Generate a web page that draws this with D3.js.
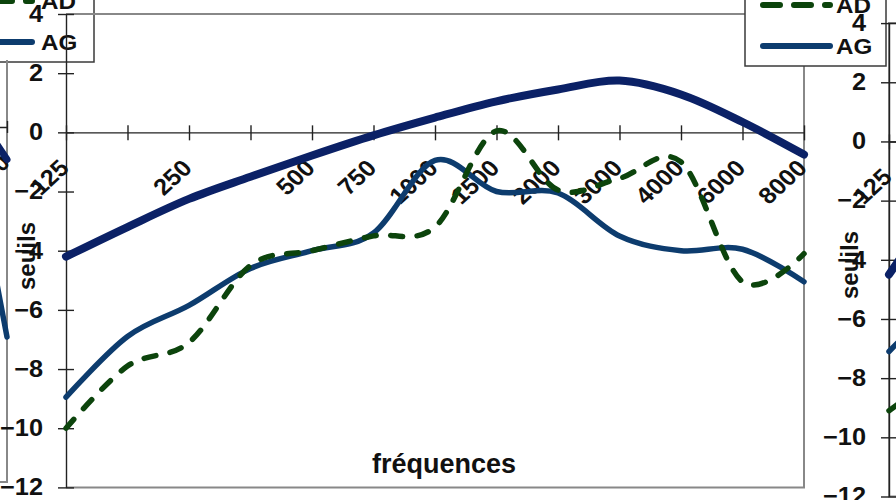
<!DOCTYPE html>
<html>
<head>
<meta charset="utf-8">
<script src="https://cdn.jsdelivr.net/npm/d3@7/dist/d3.min.js"></script>
<style>
  body { margin: 0; background: #fff; }
  svg { display: block; font-family: "Liberation Sans", Arial, sans-serif; font-weight: bold; }
</style>
</head>
<body>
<svg id="chart" width="896" height="500"></svg>
<script>
// categories on the x axis (two empty ones in the sheet)
var categories = ["125", "", "250", "", "500", "750", "1000", "1500", "2000", "3000", "4000", "6000", "8000"];
var yTicks = [4, 2, 0, -2, -4, -6, -8, -10, -12];

// main chart series
var seriesTop = [-4.2, -3.2, -2.25, -1.5, -0.78, -0.1, 0.5, 1.05, 1.45, 1.75, 1.28, 0.35, -0.75];
var seriesAG = [-8.95, -6.9, -5.85, -4.6, -4.0, -3.4, -0.95, -2.0, -2.05, -3.5, -4.0, -3.95, -5.05];
var seriesAD = [-10.0, -7.9, -7.1, -4.5, -4.0, -3.5, -3.2, 0.05, -1.95, -1.55, -1.0, -5.05, -4.1];

// neighbour charts : only the bits that show in the crop
var leftTop = [2.0, -1.1];      // categories 6000, 8000
var leftAG = [3.9, -7.1];       // categories 6000, 8000
var rightTop = [-4.5, -1.5];    // categories 125, (blank)
var rightAG = [-7.1, -5.0];
var rightAD = [-9.1, -7.6];

var legendNames = ["AD", "AG"];

var colTop = "#0b2166";
var colAG = "#0d3c6e";
var colAD = "#0c440c";
var stretch = 1.1;
var fs = "23px";

var svg = d3.select("#chart");

function makeScales(left, top) {
  // left = x of first category, top = y of the value 4
  var x = d3.scalePoint().domain(d3.range(categories.length)).range([left, left + 738]);
  var y = d3.scaleLinear().domain([-12, 4]).range([top + 473.4, top]);
  return { x: x, y: y };
}

function drawLine(g, s, values, offset, color, width, dash) {
  var line = d3.line()
    .x((d, i) => s.x(i + offset))
    .y(d => s.y(d))
    .curve(d3.curveCatmullRom.alpha(0));
  var p = g.append("path")
    .datum(values)
    .attr("fill", "none")
    .attr("stroke", color)
    .attr("stroke-width", width)
    .attr("stroke-linecap", "round")
    .attr("stroke-linejoin", "round")
    .attr("d", line);
  if (dash) p.attr("stroke-dasharray", dash);
}

function styleText(sel) {
  sel.attr("fill", "#111")
    .style("font-size", fs)
    .style("font-family", "inherit")
    .style("font-weight", "bold");
}

function drawYAxis(g, s) {
  var ax = g.append("g")
    .attr("transform", `translate(${s.x(0)},0)`)
    .call(d3.axisLeft(s.y).tickValues(yTicks).tickSizeOuter(0).tickSizeInner(8).tickFormat(d3.format("d")));
  ax.select(".domain").attr("stroke", "#222").attr("stroke-width", 1.4);
  ax.selectAll(".tick line").attr("x1", -8).attr("x2", 8).attr("stroke", "#222").attr("stroke-width", 1.4);
  ax.selectAll(".tick text")
    .attr("x", 0)
    .attr("transform", `translate(-23,0) scale(${stretch},1)`)
    .call(styleText);
  return ax;
}

function drawXAxis(g, s) {
  var ax = g.append("g")
    .attr("transform", `translate(0,${s.y(0)})`)
    .call(d3.axisBottom(s.x).tickSizeOuter(0).tickSizeInner(8).tickFormat(i => categories[i]));
  ax.select(".domain").attr("stroke", "#222").attr("stroke-width", 1.4);
  ax.selectAll(".tick line").attr("y1", -7).attr("y2", 8).attr("stroke", "#222").attr("stroke-width", 1.4);
  ax.selectAll(".tick text")
    .attr("y", 0).attr("dy", 0)
    .attr("text-anchor", "end")
    .attr("transform", `translate(4,37) scale(${stretch},1) rotate(-45)`)
    .call(styleText);
  return ax;
}

function yTitle(g, x, y) {
  g.append("text")
    .attr("transform", `translate(${x},${y}) rotate(-90)`)
    .attr("text-anchor", "middle")
    .attr("fill", "#111")
    .style("font-size", "24px")
    .text("seuils");
}

function legend(g, box, lineY, x0, x1, tx) {
  g.append("rect")
    .attr("x", box[0]).attr("y", box[1]).attr("width", box[2]).attr("height", box[3])
    .attr("fill", "#fff").attr("stroke", "#3a3a3a").attr("stroke-width", 1.5);
  var styles = [[colAD, "17,14"], [colAG, null]];
  legendNames.forEach((name, i) => {
    var ly = lineY[i];
    var p = g.append("line")
      .attr("x1", x0).attr("x2", x1).attr("y1", ly).attr("y2", ly)
      .attr("stroke", styles[i][0]).attr("stroke-width", 6).attr("stroke-linecap", "round");
    if (styles[i][1]) p.attr("stroke-dasharray", styles[i][1]);
    g.append("text")
      .attr("transform", `translate(${tx},${ly + 8}) scale(${stretch},1)`)
      .attr("fill", "#111")
      .style("font-size", "22px")
      .text(name);
  });
}

// ---------- left neighbour (only its right edge) ----------
var gl = svg.append("g");
var sl = makeScales(7 - 738, 127 - 4 * 29.6);
legend(gl, [-50, -40, 144, 102], [1, 42], -5, 32, 41);
gl.append("path")
  .attr("d", `M0,${sl.y(-12)}H7V60`)
  .attr("fill", "none").attr("stroke", "#888").attr("stroke-width", 2);
var lax = gl.append("g")
  .attr("transform", `translate(0,${sl.y(0)})`)
  .call(d3.axisBottom(sl.x).tickSizeOuter(0).tickSizeInner(8).tickFormat(i => categories[i]));
lax.select(".domain").attr("stroke", "#222").attr("stroke-width", 1.4);
lax.selectAll(".tick line").attr("y1", -6).attr("y2", 6).attr("stroke", "#222").attr("stroke-width", 1.4);
lax.selectAll(".tick text")
  .attr("y", 0).attr("dy", 0).attr("text-anchor", "end")
  .attr("transform", `translate(4,37) scale(${stretch},1) rotate(-45)`)
  .call(styleText);
drawLine(gl, sl, leftTop, 11, colTop, 7);
drawLine(gl, sl, leftAG, 11, colAG, 5.5);

// ---------- main chart ----------
var g = svg.append("g");
var s = makeScales(66, 14);

// plot area frame (top, right, bottom)
g.append("path")
  .attr("d", `M${s.x(0)},${s.y(4)}H${s.x(12)}V${s.y(-12)}H${s.x(0)}`)
  .attr("fill", "none").attr("stroke", "#888").attr("stroke-width", 2);

drawYAxis(g, s);
drawXAxis(g, s);

drawLine(g, s, seriesTop, 0, colTop, 8);
drawLine(g, s, seriesAG, 0, colAG, 5.5);
drawLine(g, s, seriesAD, 0, colAD, 5.5, "12,14.5");

g.append("text")
  .attr("x", 444).attr("y", 473)
  .attr("text-anchor", "middle")
  .attr("fill", "#111")
  .style("font-size", "27px")
  .text("fréquences");
yTitle(g, 35, 256);

legend(g, [745, -40, 141, 106], [5, 46], 763, 830, 836);

// ---------- right neighbour (only its left edge) ----------
var gr = svg.append("g");
var sr = makeScales(889, 141.5 - 4 * 29.6);
gr.append("path")
  .attr("d", `M896,${sr.y(4)}H${sr.x(0)}V${sr.y(-12)}H896`)
  .attr("fill", "none").attr("stroke", "#888").attr("stroke-width", 2);
drawYAxis(gr, sr);
drawXAxis(gr, sr);
drawLine(gr, sr, rightTop, 0, colTop, 8);
drawLine(gr, sr, rightAG, 0, colAG, 5.5);
drawLine(gr, sr, rightAD, 0, colAD, 5.5, "12,14.5");
yTitle(gr, 858, 265);
</script>
</body>
</html>
